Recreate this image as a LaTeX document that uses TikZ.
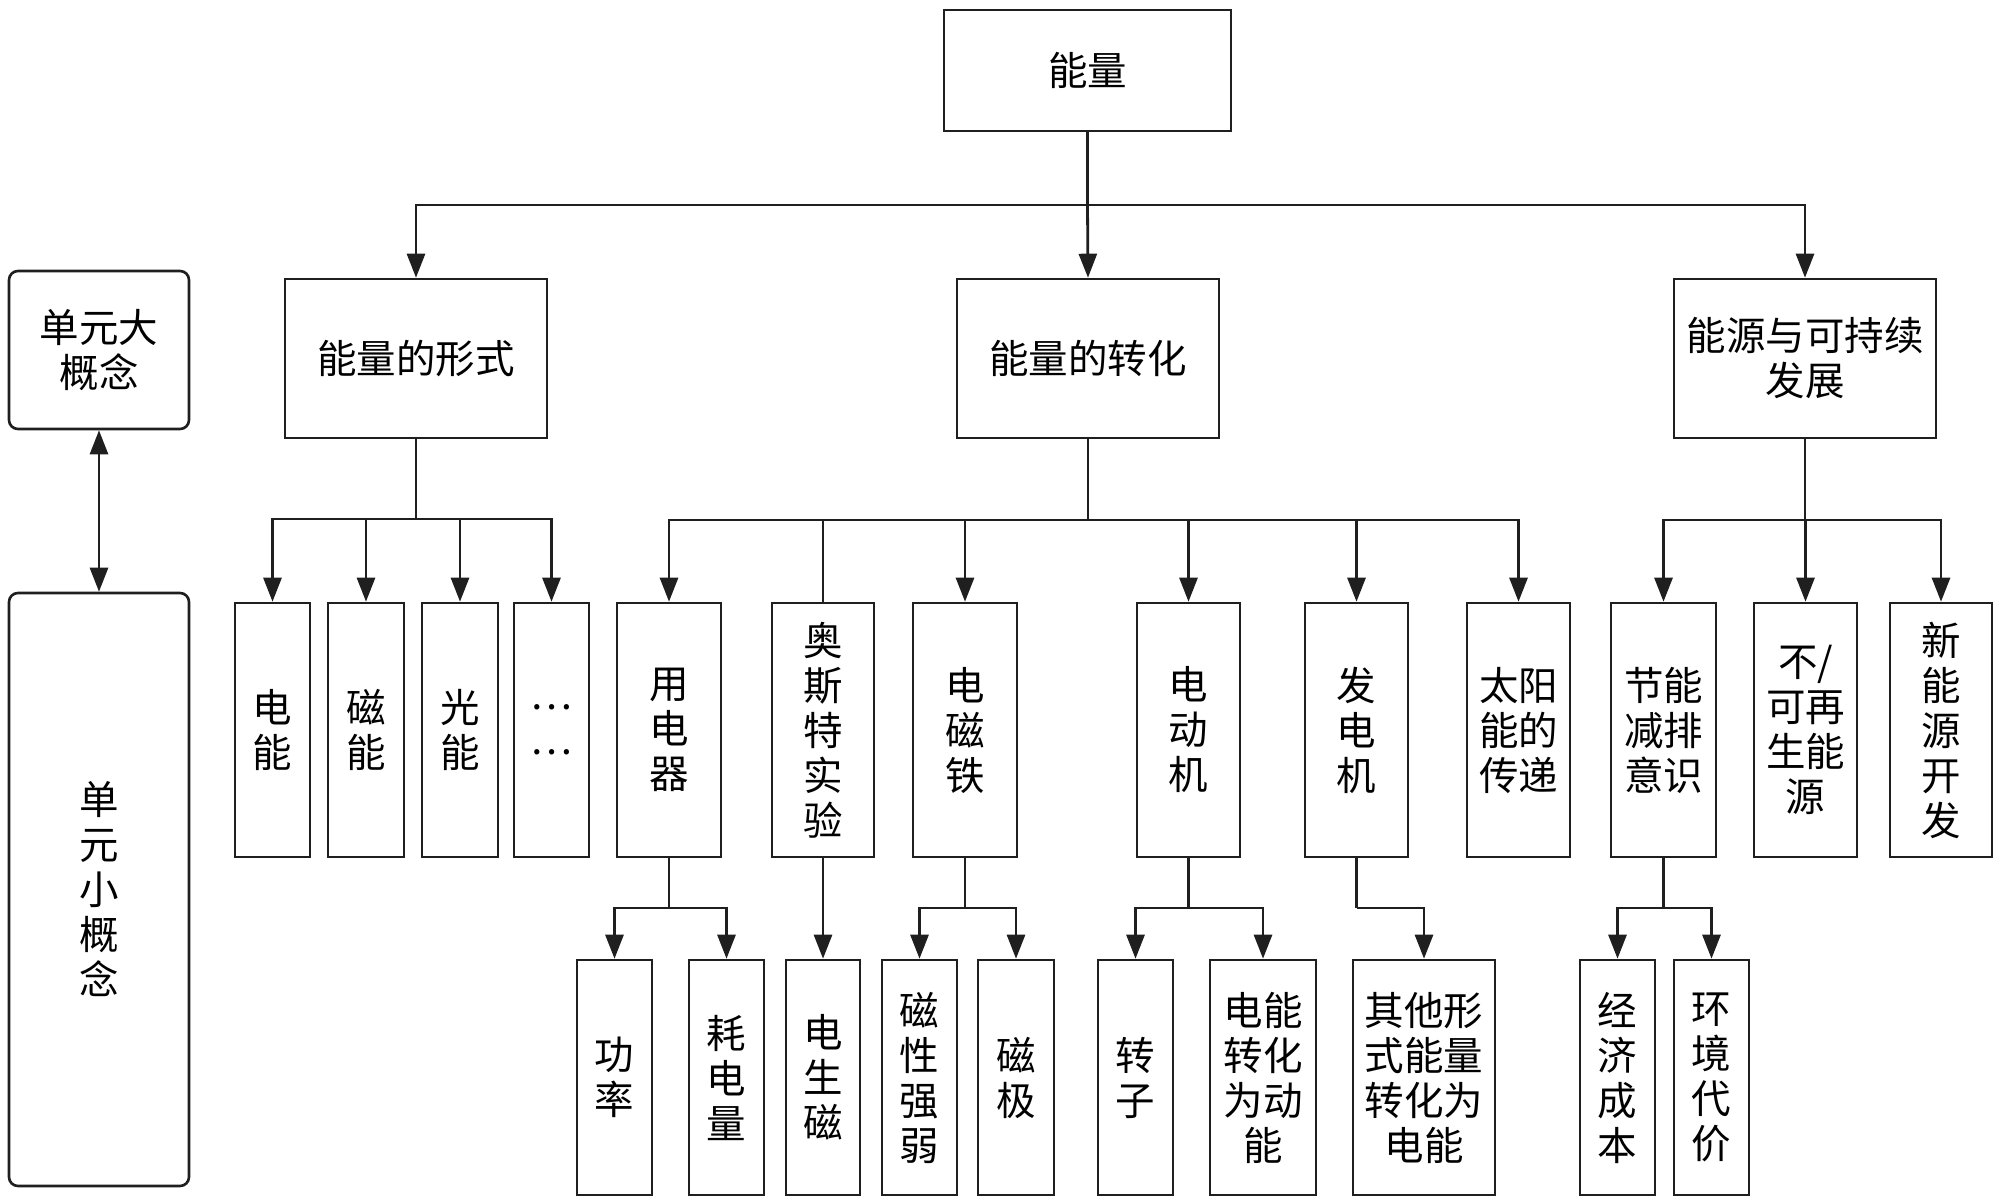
\documentclass[tikz,border=0pt]{standalone}
\usepackage{fontspec}
\setmainfont{Noto Sans CJK SC}
\usetikzlibrary{arrows.meta}
\begin{document}
\begin{tikzpicture}[x=1pt,y=-1pt,
  box/.style={draw=black!88,line width=2.6pt,inner sep=0pt,align=center,
    font=\fontsize{39.5}{45}\selectfont},
  rbox/.style={box,rounded corners=9pt},
  conn/.style={draw=black!88,line width=2.8pt},
  arr/.style={conn,-{Triangle[length=24pt,width=18pt]}},
  arrtwo/.style={conn,{Triangle[length=24pt,width=18pt]}-{Triangle[length=24pt,width=18pt]}},
  lthree/.style={box,minimum height=254pt},
  lfour/.style={box,minimum height=235pt}]
\useasboundingbox (0,0) rectangle (2000,1202);
% left legend
\node[rbox,minimum width=180pt,minimum height=158pt] (dg) at (99,350) {单元大\\概念};
\node[rbox,minimum width=180pt,minimum height=593pt] (xg) at (99,889.5) {单\\元\\小\\概\\念};
% top
\node[box,minimum width=287pt,minimum height=121pt] (top) at (1087.5,70.5) {能量};
% level 2
\node[box,minimum width=262pt,minimum height=159pt] (xs) at (416,358.5) {能量的形式};
\node[box,minimum width=262pt,minimum height=159pt] (zh) at (1088,358.5) {能量的转化};
\node[box,minimum width=262pt,minimum height=159pt] (ny) at (1805,358.5) {能源与可持续\\发展};
% level 3
\node[lthree,minimum width=75pt] (dn) at (272.5,730) {电\\能};
\node[lthree,minimum width=76pt] (cn) at (366,730) {磁\\能};
\node[lthree,minimum width=76pt] (gn) at (460,730) {光\\能};
\node[lthree,minimum width=75pt] (el) at (551.5,730) {…\\…};
\node[lthree,minimum width=104pt] (yd) at (669,730) {用\\电\\器};
\node[lthree,minimum width=102pt] (ao) at (823,730) {奥\\斯\\特\\实\\验};
\node[lthree,minimum width=104pt] (dc) at (965,730) {电\\磁\\铁};
\node[lthree,minimum width=103pt] (dd) at (1188.5,730) {电\\动\\机};
\node[lthree,minimum width=103pt] (fd) at (1356.5,730) {发\\电\\机};
\node[lthree,minimum width=103pt] (ty) at (1518.5,730) {太阳\\能的\\传递};
\node[lthree,minimum width=105pt] (jn) at (1663.5,730) {节能\\减排\\意识};
\node[lthree,minimum width=103pt] (bk) at (1805.5,730) {不/\\可再\\生能\\源};
\node[lthree,minimum width=102pt] (xn) at (1941,730) {新\\能\\源\\开\\发};
% level 4
\node[lfour,minimum width=75pt] (gl) at (614.5,1077.5) {功\\率};
\node[lfour,minimum width=75pt] (hd) at (726.5,1077.5) {耗\\电\\量};
\node[lfour,minimum width=74pt] (ds) at (823,1077.5) {电\\生\\磁};
\node[lfour,minimum width=75pt] (cx) at (919.5,1077.5) {磁\\性\\强\\弱};
\node[lfour,minimum width=76pt] (cj) at (1016,1077.5) {磁\\极};
\node[lfour,minimum width=75pt] (zz) at (1135.5,1077.5) {转\\子};
\node[lfour,minimum width=106pt] (dz) at (1263,1077.5) {电能\\转化\\为动\\能};
\node[lfour,minimum width=142pt] (qt) at (1424,1077.5) {其他形\\式能量\\转化为\\电能};
\node[lfour,minimum width=75pt] (jj) at (1617.5,1077.5) {经\\济\\成\\本};
\node[lfour,minimum width=75pt] (hj) at (1711.5,1077.5) {环\\境\\代\\价};
% junctions
\coordinate (j1) at (1087.5,205);
\coordinate (j2) at (416,519);
\coordinate (j3) at (1088,520);
\coordinate (j9) at (1805,520);
\coordinate (j4) at (669,908);
\coordinate (j5) at (965,908);
\coordinate (j6) at (1188.5,908);
\coordinate (j7) at (1356.5,908);
\coordinate (j8) at (1663.5,908);
% connectors
\draw[arrtwo] (dg.south) -- (xg.north);
\draw[conn] (top.south) -- (j1);
\draw[arr] (j1) -| (xs.north);
\draw[arr] (j1) -- (zh.north);
\draw[arr] (j1) -| (ny.north);
\draw[conn] (xs.south) -- (j2);
\foreach \n in {dn,cn,gn,el} \draw[arr] (j2) -| (\n.north);
\draw[conn] (zh.south) -- (j3);
\foreach \n in {yd,dc,dd,fd,ty} \draw[arr] (j3) -| (\n.north);
\draw[conn] (j3) -| (ao.north);
\draw[conn] (ny.south) -- (j9);
\foreach \n in {jn,bk,xn} \draw[arr] (j9) -| (\n.north);
\draw[conn] (yd.south) -- (j4);
\draw[arr] (j4) -| (gl.north);
\draw[arr] (j4) -| (hd.north);
\draw[arr] (ao.south) -- (ds.north);
\draw[conn] (dc.south) -- (j5);
\draw[arr] (j5) -| (cx.north);
\draw[arr] (j5) -| (cj.north);
\draw[conn] (dd.south) -- (j6);
\draw[arr] (j6) -| (zz.north);
\draw[arr] (j6) -| (dz.north);
\draw[conn] (fd.south) -- (j7);
\draw[arr] (j7) -| (qt.north);
\draw[conn] (jn.south) -- (j8);
\draw[arr] (j8) -| (jj.north);
\draw[arr] (j8) -| (hj.north);
\end{tikzpicture}
\end{document}
